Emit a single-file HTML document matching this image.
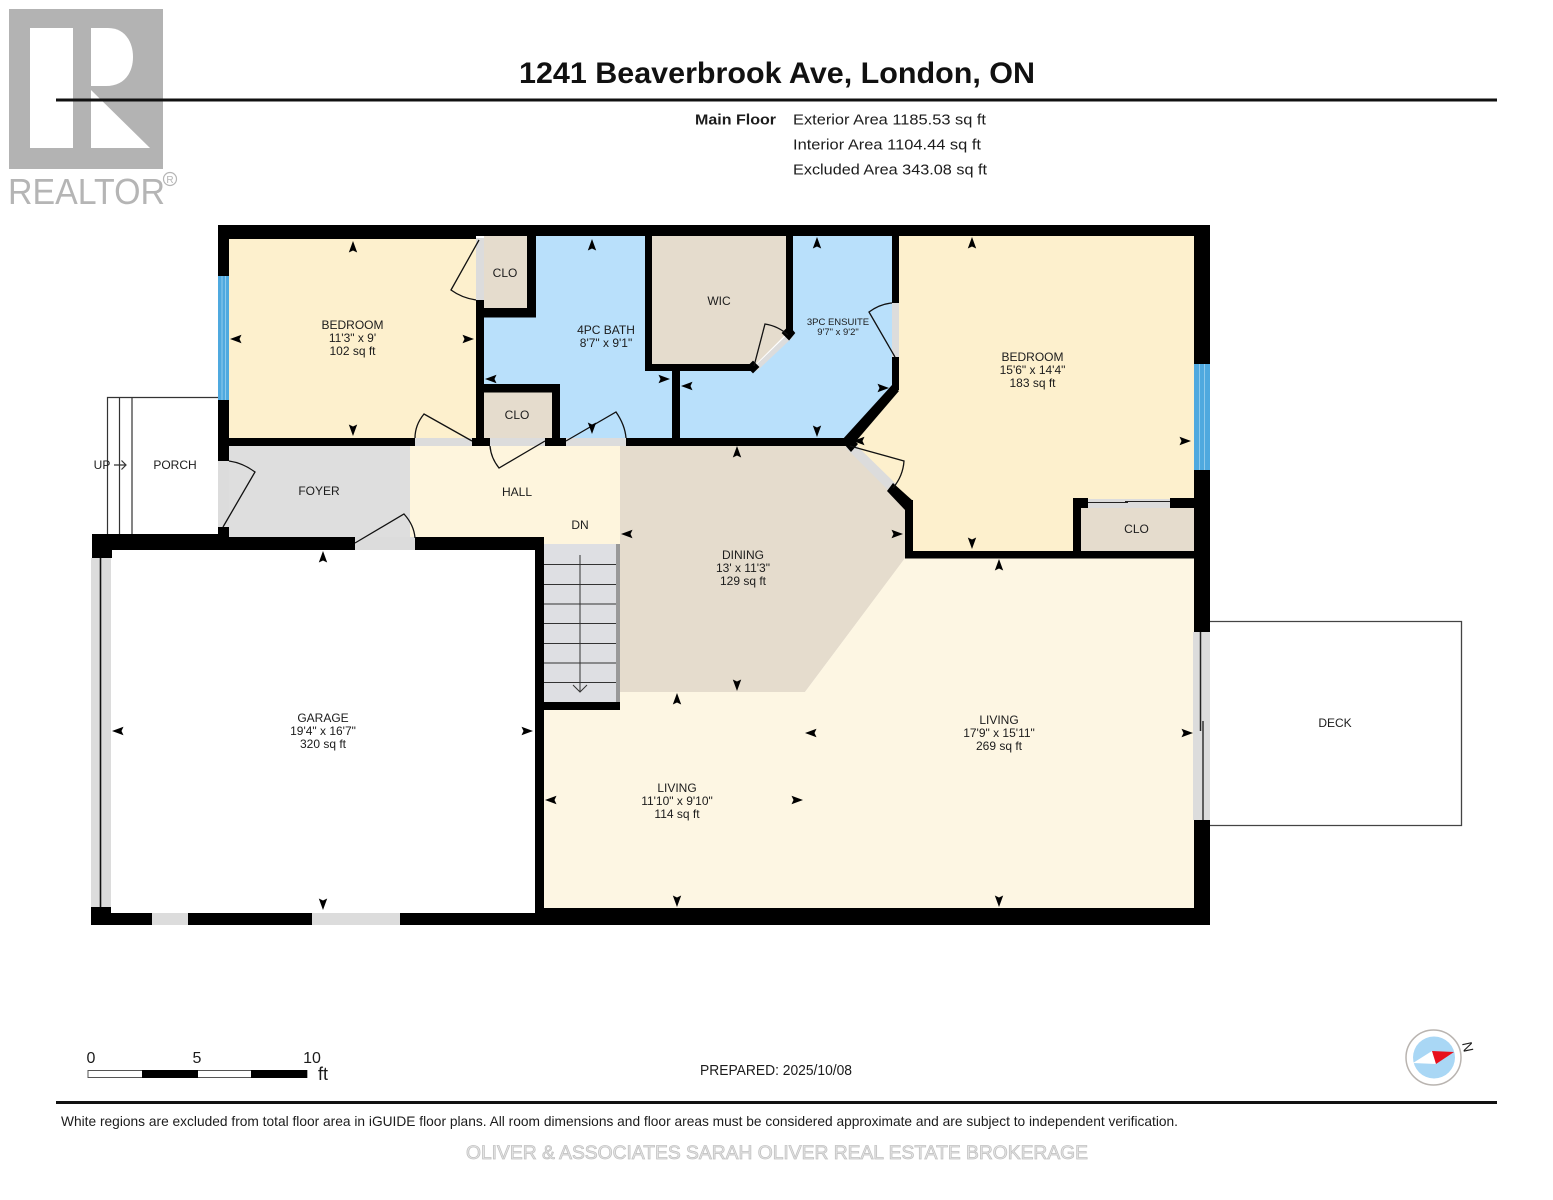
<!DOCTYPE html>
<html><head><meta charset="utf-8"><title>1241 Beaverbrook Ave</title>
<style>html,body{margin:0;padding:0;background:#fff}svg{display:block}text{font-family:"Liberation Sans",sans-serif;fill:#1c1c1c}.r text,.r{text-anchor:middle;font-size:12px}</style></head>
<body>
<svg width="1553" height="1200" viewBox="0 0 1553 1200" xmlns="http://www.w3.org/2000/svg">
<defs><path id="a" d="M0,-6L4.200,5.500L0,3.500L-4.200,5.500Z" fill="#000"/></defs>
<rect width="1553" height="1200" fill="#fff"/>

<!-- logo -->
<rect x="9" y="9" width="154" height="160" fill="#b3b3b3"/>
<rect x="30" y="28" width="43" height="120" fill="#fff"/>
<path d="M91,28H108C125,28 133,42 133,57C133,73 124,86 106,86H91Z" fill="#fff"/>
<path d="M91,90L150,148H91Z" fill="#fff"/>
<text x="8" y="204" font-size="36" textLength="157" lengthAdjust="spacingAndGlyphs" style="fill:#b5b5b5">REALTOR</text>
<circle cx="170" cy="179" r="6.500" fill="none" stroke="#b5b5b5" stroke-width="1.200"/>
<text x="170" y="183" font-size="10" text-anchor="middle" style="fill:#b5b5b5">R</text>

<!-- header -->
<text x="519" y="83" font-size="30" textLength="516" lengthAdjust="spacingAndGlyphs" style="font-weight:bold;fill:#111">1241 Beaverbrook Ave, London, ON</text>
<rect x="56" y="98.500" width="1441" height="3" fill="#111"/>
<text x="695" y="124.500" font-size="15" textLength="81" lengthAdjust="spacingAndGlyphs" style="font-weight:bold">Main Floor</text>
<text x="793" y="124.500" font-size="15" textLength="193" lengthAdjust="spacingAndGlyphs">Exterior Area 1185.53 sq ft</text>
<text x="793" y="149.500" font-size="15" textLength="188" lengthAdjust="spacingAndGlyphs">Interior Area 1104.44 sq ft</text>
<text x="793" y="174.500" font-size="15" textLength="194" lengthAdjust="spacingAndGlyphs">Excluded Area 343.08 sq ft</text>

<!-- room fills -->
<rect x="229" y="238" width="248" height="201" fill="#fdf0cd"/>
<rect x="484" y="236" width="44" height="73" fill="#e5dccd"/>
<path d="M484,317H536V236H646V371H673V439H559V391H484Z" fill="#b9e0fb"/>
<rect x="484" y="392" width="68" height="47" fill="#e5dccd"/>
<path d="M652,236H787V333L755,365H652Z" fill="#e5dccd"/>
<path d="M793,236H893V390L846,438H680V371H755L790,335H793Z" fill="#b9e0fb"/>
<path d="M899,236H1194V499H1073V551H913V503L893,486L850,442L899,388Z" fill="#fdf0cd"/>
<rect x="1081" y="507" width="113" height="44" fill="#e5dccd"/>
<rect x="229" y="446" width="182" height="92" fill="#dedede"/>
<path d="M410,446H621V546H544V538H410Z" fill="#fef5dd"/>
<path d="M620,446H848L894,489L906,503V557L805,692H620Z" fill="#e5dccd"/>
<path d="M544,710H620V692H805L905,558H1194V908H544Z" fill="#fdf6e3"/>

<!-- stairs -->
<rect x="544" y="544" width="72" height="159" fill="#dedfe3"/>
<rect x="616" y="544" width="4" height="159" fill="#999"/>
<g stroke="#333" stroke-width="1" fill="none">
<path d="M544,564.500H616M544,584.500H616M544,604H616M544,623.500H616M544,643.500H616M544,663H616M544,682.500H616"/>
<path d="M580,555V692M573,685L580,692L587,685"/>
</g>

<!-- grey openings -->
<g fill="#dcdcdc">
<rect x="476" y="238" width="8" height="63"/>
<rect x="415" y="438" width="57" height="8"/>
<rect x="490" y="438" width="55" height="8"/>
<rect x="566" y="438" width="60" height="8"/>
<rect x="218" y="461" width="11" height="66"/>
<rect x="355" y="537" width="60" height="13"/>
<rect x="892" y="303" width="7" height="54"/>
<rect x="1088" y="499" width="82" height="9"/>
<rect x="1193" y="632" width="17" height="188"/>
<rect x="91" y="558" width="20" height="349"/>
<rect x="152" y="913" width="36" height="12"/>
<rect x="312" y="913" width="88" height="12"/>
<path d="M754,367L789,333L793,337L757,371Z"/>
<path d="M852,441L897,485L890,492L846,448Z"/>
</g>

<!-- windows -->
<rect x="218" y="276" width="11" height="124" fill="#4fa9df"/>
<path d="M222,276V400M225.500,276V400" stroke="#8fcaec" stroke-width="1"/>
<rect x="1194" y="364" width="16" height="106" fill="#4fa9df"/>
<path d="M1199.500,364V470M1204.500,364V470" stroke="#8fcaec" stroke-width="1"/>

<!-- walls -->
<g fill="#000">
<rect x="218" y="225" width="992" height="11"/>
<rect x="218" y="225" width="258" height="14"/>
<rect x="218" y="225" width="11" height="51"/>
<rect x="218" y="400" width="11" height="61"/>
<rect x="218" y="527" width="11" height="20"/>
<rect x="229" y="438" width="186" height="8"/>
<rect x="472" y="438" width="18" height="8"/>
<rect x="545" y="438" width="21" height="8"/>
<rect x="626" y="438" width="222" height="8"/>
<rect x="476" y="300" width="8" height="139"/>
<rect x="527" y="236" width="9" height="81"/>
<rect x="476" y="308" width="60" height="9.500"/>
<rect x="476" y="384" width="84" height="8.500"/>
<rect x="552" y="384" width="8" height="55"/>
<rect x="645" y="236" width="7" height="135"/>
<rect x="645" y="364" width="110" height="7"/>
<rect x="672" y="371" width="8" height="68"/>
<rect x="786" y="236" width="7" height="97"/>
<path d="M789,327L794,333L789,339L783,333Z" stroke="#000" stroke-width="2"/>
<path d="M753,362L758,367L753,372L748,367Z" stroke="#000" stroke-width="2"/>
<rect x="892" y="236" width="7" height="67"/>
<rect x="892" y="357" width="7" height="33"/>
<path d="M892,385L899,391L851,447L842,440Z"/>
<path d="M851,437L858,444L851,452L844,444Z"/>
<path d="M893,483L913,501V510H905L887,491Z"/>
<rect x="905" y="500" width="8" height="58"/>
<rect x="905" y="551" width="290" height="7.500"/>
<rect x="1073" y="498" width="8" height="55"/>
<rect x="1073" y="498" width="15" height="10"/>
<rect x="1170" y="498" width="24" height="10"/>
<rect x="1194" y="225" width="16" height="139"/>
<rect x="1194" y="470" width="16" height="162"/>
<rect x="1194" y="820" width="16" height="105"/>
<rect x="92" y="534" width="126" height="16"/>
<rect x="92" y="534" width="20" height="24"/>
<rect x="218" y="537" width="137" height="13"/>
<rect x="415" y="537" width="129" height="13"/>
<rect x="535" y="537" width="9" height="388"/>
<rect x="544" y="702" width="76" height="8"/>
<rect x="91" y="907" width="20" height="18"/>
<rect x="91" y="913" width="61" height="12"/>
<rect x="188" y="913" width="124" height="12"/>
<rect x="400" y="913" width="135" height="12"/>
<rect x="535" y="908" width="675" height="17"/>
</g>
<path d="M100.500,558V907" stroke="#111" stroke-width="1.600"/>
<path d="M1200.500,632V731" stroke="#222" stroke-width="1.500"/>
<path d="M1203,721V820" stroke="#333" stroke-width="1.500"/>
<path d="M1088,502.500H1128M1125,501.500H1170" stroke="#222" stroke-width="1"/>

<!-- doors -->
<g fill="none" stroke="#111" stroke-width="1.300">
<path d="M479,240L451,290Q462,298 476,300"/>
<path d="M472,441L424,414Q415,425 415,438"/>
<path d="M545,441L499,468Q491,458 490,446"/>
<path d="M566,441L616,412Q625,425 626,438"/>
<path d="M223,527L255,472Q243,463 229,461"/>
<path d="M355,543L404,514Q414,525 415,538"/>
<path d="M895,357L869,312Q880,304 892,303"/>
<path d="M850,446L904,461Q903,476 893,488"/>
<path d="M754,366L765,324Q778,326 788,335"/>
</g>

<!-- porch & deck -->
<g fill="none" stroke="#333" stroke-width="1.200">
<path d="M218,397.500H107.500V534M119.500,397.500V534M132,397.500V534"/>
<path d="M114,465H125M121.500,460.500L126,465L121.500,469.500"/>
</g>
<path d="M1210,621.500H1461.500V825.500H1210" fill="none" stroke="#444" stroke-width="1.300"/>

<!-- dimension arrows -->
<g>
<use href="#a" transform="translate(353,247)"/><use href="#a" transform="translate(353,430) rotate(180)"/><use href="#a" transform="translate(236,339) rotate(-90)"/><use href="#a" transform="translate(468,339) rotate(90)"/>
<use href="#a" transform="translate(592,245)"/><use href="#a" transform="translate(592,428) rotate(180)"/><use href="#a" transform="translate(491,379) rotate(-90)"/><use href="#a" transform="translate(664,379) rotate(90)"/>
<use href="#a" transform="translate(817,243)"/><use href="#a" transform="translate(817,431) rotate(180)"/><use href="#a" transform="translate(687,386) rotate(-90)"/><use href="#a" transform="translate(883,388) rotate(90)"/>
<use href="#a" transform="translate(972,243)"/><use href="#a" transform="translate(972,543) rotate(180)"/><use href="#a" transform="translate(859,441) rotate(-90)"/><use href="#a" transform="translate(1185,441) rotate(90)"/>
<use href="#a" transform="translate(737,452)"/><use href="#a" transform="translate(737,685) rotate(180)"/><use href="#a" transform="translate(627,534) rotate(-90)"/><use href="#a" transform="translate(897,534) rotate(90)"/>
<use href="#a" transform="translate(677,699)"/><use href="#a" transform="translate(677,901) rotate(180)"/><use href="#a" transform="translate(551,800) rotate(-90)"/><use href="#a" transform="translate(797,800) rotate(90)"/>
<use href="#a" transform="translate(999,565)"/><use href="#a" transform="translate(999,901) rotate(180)"/><use href="#a" transform="translate(811,733) rotate(-90)"/><use href="#a" transform="translate(1187,733) rotate(90)"/>
<use href="#a" transform="translate(323,557)"/><use href="#a" transform="translate(323,904) rotate(180)"/><use href="#a" transform="translate(118,731) rotate(-90)"/><use href="#a" transform="translate(527,731) rotate(90)"/>
</g>

<!-- labels -->
<g class="r">
<text x="352.500" y="329">BEDROOM</text><text x="352.500" y="342">11'3" x 9'</text><text x="352.500" y="355">102 sq ft</text>
<text x="505" y="277">CLO</text>
<text x="517" y="419">CLO</text>
<text x="606" y="334">4PC BATH</text><text x="606" y="347">8'7" x 9'1"</text>
<text x="719" y="305">WIC</text>
<text x="838" y="325" style="font-size:9.500px">3PC ENSUITE</text><text x="838" y="335" style="font-size:9.500px">9'7" x 9'2"</text>
<text x="1032.500" y="361">BEDROOM</text><text x="1032.500" y="374">15'6" x 14'4"</text><text x="1032.500" y="387">183 sq ft</text>
<text x="1136.500" y="533">CLO</text>
<text x="175" y="469">PORCH</text>
<text x="102" y="469">UP</text>
<text x="319" y="495">FOYER</text>
<text x="517" y="496">HALL</text>
<text x="580" y="529">DN</text>
<text x="743" y="559">DINING</text><text x="743" y="572">13' x 11'3"</text><text x="743" y="585">129 sq ft</text>
<text x="323" y="722">GARAGE</text><text x="323" y="735">19'4" x 16'7"</text><text x="323" y="748">320 sq ft</text>
<text x="677" y="792">LIVING</text><text x="677" y="805">11'10" x 9'10"</text><text x="677" y="818">114 sq ft</text>
<text x="999" y="724">LIVING</text><text x="999" y="737">17'9" x 15'11"</text><text x="999" y="750">269 sq ft</text>
<text x="1335" y="727">DECK</text>
</g>

<!-- scale -->
<text x="91" y="1063" font-size="16" text-anchor="middle">0</text>
<text x="197" y="1063" font-size="16" text-anchor="middle">5</text>
<text x="312" y="1063" font-size="16" text-anchor="middle">10</text>
<text x="318" y="1080" font-size="18">ft</text>
<rect x="88" y="1070.500" width="219" height="7" fill="#fff" stroke="#555" stroke-width="1"/>
<rect x="142" y="1070" width="56" height="8" fill="#000"/>
<rect x="251" y="1070" width="56" height="8" fill="#000"/>

<text x="700" y="1075" font-size="14.500" textLength="152" lengthAdjust="spacingAndGlyphs">PREPARED: 2025/10/08</text>

<!-- compass -->
<circle cx="1433.500" cy="1057.500" r="27.500" fill="#fff" stroke="#b9b4b0" stroke-width="1.500"/>
<circle cx="1434" cy="1057.500" r="21" fill="#a9d7f5"/>
<path d="M1413,1063L1432,1051L1436,1064Z" fill="#fff"/>
<path d="M1432,1051L1454,1052L1436,1064Z" fill="#e8101c"/>
<text x="0" y="0" font-size="14" text-anchor="middle" transform="translate(1463,1048) rotate(78)">N</text>

<!-- footer -->
<rect x="56" y="1101" width="1441" height="3" fill="#111"/>
<text x="61" y="1126" font-size="14" textLength="1117" lengthAdjust="spacingAndGlyphs">White regions are excluded from total floor area in iGUIDE floor plans. All room dimensions and floor areas must be considered approximate and are subject to independent verification.</text>
<text x="466" y="1159" font-size="19" textLength="622" lengthAdjust="spacingAndGlyphs" style="fill:#e6e6e6;stroke:#c2c2c2;stroke-width:.8px">OLIVER &amp; ASSOCIATES SARAH OLIVER REAL ESTATE BROKERAGE</text>
</svg>
</body></html>
